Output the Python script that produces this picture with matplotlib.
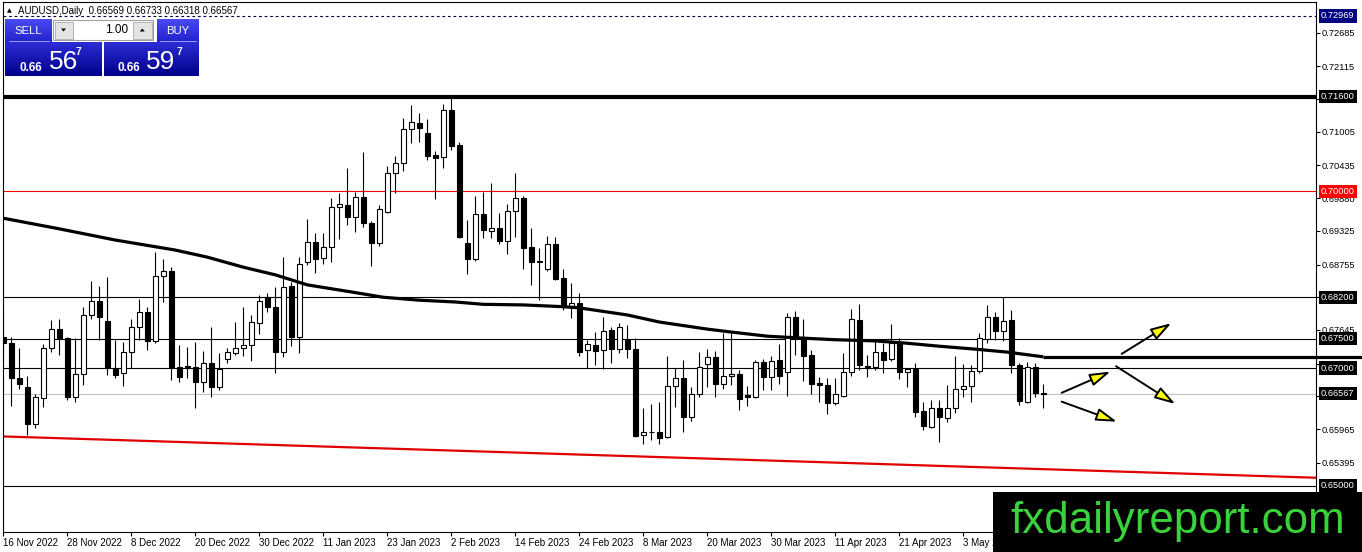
import matplotlib
matplotlib.use("Agg")
import matplotlib.pyplot as plt
import matplotlib.transforms as mtransforms
from matplotlib.patches import Rectangle, FancyArrowPatch, Polygon
from matplotlib.colors import LinearSegmentedColormap
from matplotlib import font_manager
import numpy as np

# ---------------- data ----------------
symbol = "AUDUSD,Daily"
last_ohlc = [0.66569, 0.66733, 0.66318, 0.66567]

opens = [0.6753, 0.6742, 0.6683, 0.6668, 0.6605, 0.6649, 0.6734, 0.6766, 0.6751, 0.6651,
         0.6690, 0.6790, 0.6814, 0.6780, 0.6700, 0.6692, 0.6727, 0.6770, 0.6795, 0.6746,
         0.6856, 0.6865, 0.6702, 0.6703, 0.6702, 0.6676, 0.6709, 0.6668, 0.6715, 0.6726,
         0.6734, 0.6739, 0.6776, 0.6820, 0.6804, 0.6727, 0.6839, 0.6753, 0.6880, 0.6914,
         0.6887, 0.6905, 0.6973, 0.6976, 0.6956, 0.6990, 0.6946, 0.6912, 0.6965, 0.7031,
         0.7048, 0.7105, 0.7115, 0.7099, 0.7061, 0.7058, 0.7138, 0.7078, 0.6912, 0.6885,
         0.6961, 0.6932, 0.6937, 0.6915, 0.6966, 0.6988, 0.6905, 0.6880, 0.6868, 0.6910,
         0.6853, 0.6805, 0.6810, 0.6731, 0.6739, 0.6731, 0.6764, 0.6732, 0.6748, 0.6732,
         0.6586, 0.6592, 0.6592, 0.6583, 0.6670, 0.6683, 0.6617, 0.6656, 0.6707, 0.6719,
         0.6673, 0.6687, 0.6690, 0.6654, 0.6651, 0.6710, 0.6685, 0.6714, 0.6693, 0.6787,
         0.6751, 0.6722, 0.6675, 0.6671, 0.6641, 0.6653, 0.6693, 0.6781, 0.6703, 0.6702,
         0.6727, 0.6715, 0.6744, 0.6693, 0.6698, 0.6627, 0.6600, 0.6632, 0.6615, 0.6632,
         0.6664, 0.6670, 0.6695, 0.6749, 0.6787, 0.6763, 0.6781, 0.6705, 0.6642, 0.6702,
         0.66569]
highs = [0.6795, 0.6753, 0.6734, 0.6687, 0.6656, 0.6741, 0.6781, 0.6783, 0.6752, 0.6751,
         0.6804, 0.6848, 0.6839, 0.6854, 0.6748, 0.6744, 0.6783, 0.6817, 0.6804, 0.6897,
         0.6885, 0.6871, 0.6739, 0.6736, 0.6744, 0.6729, 0.6770, 0.6726, 0.6734, 0.6778,
         0.6804, 0.6790, 0.6824, 0.6827, 0.6837, 0.6888, 0.6846, 0.6888, 0.6953, 0.6929,
         0.6929, 0.6988, 0.6997, 0.7039, 0.6999, 0.7066, 0.6949, 0.6976, 0.7043, 0.7060,
         0.7124, 0.7146, 0.7132, 0.7122, 0.7068, 0.7148, 0.7160, 0.7083, 0.6951, 0.6992,
         0.6999, 0.7014, 0.6963, 0.6978, 0.7031, 0.6992, 0.6937, 0.6904, 0.6924, 0.6922,
         0.6868, 0.6844, 0.6827, 0.6748, 0.6761, 0.6787, 0.6770, 0.6776, 0.6773, 0.6751,
         0.6632, 0.6639, 0.6642, 0.6720, 0.6700, 0.6714, 0.6668, 0.6727, 0.6732, 0.6729,
         0.6759, 0.6759, 0.6697, 0.6670, 0.6714, 0.6715, 0.6720, 0.6741, 0.6793, 0.6797,
         0.6783, 0.6731, 0.6685, 0.6683, 0.6683, 0.6726, 0.6800, 0.6809, 0.6722, 0.6749,
         0.6742, 0.6775, 0.6751, 0.6699, 0.6709, 0.6642, 0.6646, 0.6646, 0.6671, 0.6720,
         0.6707, 0.6705, 0.6759, 0.6807, 0.6795, 0.6820, 0.6798, 0.6709, 0.6710, 0.6709,
         0.66733]
lows = [0.6722, 0.6636, 0.6664, 0.6586, 0.6598, 0.6634, 0.6727, 0.6722, 0.6646, 0.6642,
        0.6671, 0.6783, 0.6748, 0.6688, 0.6683, 0.6670, 0.6700, 0.6748, 0.6731, 0.6742,
        0.6812, 0.6680, 0.6676, 0.6683, 0.6632, 0.6659, 0.6651, 0.6663, 0.6709, 0.6722,
        0.6720, 0.6712, 0.6758, 0.6795, 0.6692, 0.6719, 0.6737, 0.6726, 0.6875, 0.6861,
        0.6876, 0.6880, 0.6919, 0.6943, 0.6931, 0.6939, 0.6873, 0.6907, 0.6963, 0.6997,
        0.7034, 0.7082, 0.7083, 0.7053, 0.6987, 0.7039, 0.7070, 0.6920, 0.6859, 0.6882,
        0.6920, 0.6920, 0.6910, 0.6893, 0.6922, 0.6868, 0.6841, 0.6815, 0.6865, 0.6849,
        0.6798, 0.6785, 0.6720, 0.6700, 0.6705, 0.6698, 0.6709, 0.6726, 0.6717, 0.6583,
        0.6571, 0.6578, 0.6571, 0.6582, 0.6634, 0.6592, 0.6610, 0.6651, 0.6668, 0.6651,
        0.6664, 0.6671, 0.6629, 0.6636, 0.6649, 0.6663, 0.6663, 0.6673, 0.6653, 0.6722,
        0.6678, 0.6656, 0.6642, 0.6622, 0.6637, 0.6651, 0.6687, 0.6697, 0.6685, 0.6697,
        0.6692, 0.6712, 0.6681, 0.6668, 0.6617, 0.6595, 0.6598, 0.6575, 0.6609, 0.6624,
        0.6651, 0.6642, 0.6692, 0.6742, 0.6748, 0.6746, 0.6692, 0.6637, 0.6641, 0.6651,
        0.66318]
closes = [0.6742, 0.6683, 0.6673, 0.6605, 0.6651, 0.6734, 0.6766, 0.6751, 0.6651, 0.6690,
          0.6790, 0.6814, 0.6787, 0.6700, 0.6688, 0.6727, 0.6770, 0.6795, 0.6746, 0.6856,
          0.6865, 0.6702, 0.6685, 0.6700, 0.6676, 0.6709, 0.6668, 0.6698, 0.6727, 0.6734,
          0.6739, 0.6778, 0.6814, 0.6804, 0.6727, 0.6837, 0.6753, 0.6876, 0.6914, 0.6885,
          0.6905, 0.6973, 0.6978, 0.6956, 0.6990, 0.6946, 0.6912, 0.6970, 0.7031, 0.7048,
          0.7105, 0.7117, 0.7107, 0.7060, 0.7056, 0.7138, 0.7076, 0.6922, 0.6885, 0.6961,
          0.6934, 0.6937, 0.6915, 0.6966, 0.6988, 0.6904, 0.6880, 0.6882, 0.6910, 0.6851,
          0.6804, 0.6810, 0.6727, 0.6741, 0.6729, 0.6763, 0.6732, 0.6770, 0.6732, 0.6585,
          0.6592, 0.6591, 0.6581, 0.6670, 0.6683, 0.6617, 0.6656, 0.6702, 0.6719, 0.6673,
          0.6687, 0.6690, 0.6648, 0.6651, 0.6710, 0.6685, 0.6712, 0.6687, 0.6787, 0.6751,
          0.6720, 0.6673, 0.6671, 0.6641, 0.6656, 0.6693, 0.6783, 0.6705, 0.6700, 0.6727,
          0.6714, 0.6742, 0.6693, 0.6698, 0.6625, 0.6602, 0.6632, 0.6617, 0.6632, 0.6664,
          0.6670, 0.6695, 0.6751, 0.6787, 0.6763, 0.6780, 0.6705, 0.6644, 0.6702, 0.6658,
          0.66567]

date_labels = ["16 Nov 2022", "28 Nov 2022", "8 Dec 2022", "20 Dec 2022", "30 Dec 2022",
               "11 Jan 2023", "23 Jan 2023", "2 Feb 2023", "14 Feb 2023", "24 Feb 2023",
               "8 Mar 2023", "20 Mar 2023", "30 Mar 2023", "11 Apr 2023", "21 Apr 2023",
               "3 May 2023"]
bars_per_label = 8

# 200-day moving average, read at points along the curve
ma_idx = [0, 7, 14, 21.5, 25.5, 30, 34, 38, 43.5, 47.5, 52, 56.5, 60, 65, 70, 72, 78, 82,
          88, 91, 95.5, 99.5, 104, 109, 113, 117, 121.5, 125.5, 130]
ma_val = [0.6954, 0.6936, 0.6917, 0.6900, 0.6888, 0.6871, 0.6858, 0.6841, 0.6829, 0.6820,
          0.6815, 0.6812, 0.6808, 0.6807, 0.6804, 0.6802, 0.6790, 0.6778, 0.6766, 0.6761,
          0.6754, 0.6751, 0.6748, 0.6746, 0.6742, 0.6737, 0.6732, 0.6727, 0.6719]
ma_ext_level = 0.6719

price_ticks = [0.72685, 0.72115, 0.71560, 0.71005, 0.70435, 0.69880, 0.69325, 0.68755,
               0.68200, 0.67645, 0.67075, 0.66520, 0.65965, 0.65395]
hidden_tick_labels = [0.71560, 0.68200, 0.66520]   # covered by level boxes
level_thick = 0.71600
level_red = 0.70000
levels_black = [0.68200, 0.67500, 0.67000, 0.65000]
bid_level = 0.66567
ask_level = 0.72969
trend_idx = [0, 164.1]
trend_val = [0.6584, 0.6514]

arrow_from = [(132.3, 0.6658), (132.3, 0.6643), (139.8, 0.6724), (139.1, 0.6703)]
arrow_to = [(138.4, 0.6694), (139.2, 0.6609), (146.0, 0.6776), (146.5, 0.6639)]

sell_parts = ("0.66", "56", "7")
buy_parts = ("0.66", "59", "7")
lot_text = "1.00"
watermark = "fxdailyreport.com"

# ---------------- fonts ----------------
avail = {f.name for f in font_manager.fontManager.ttflist}
BASE = "Liberation Sans" if "Liberation Sans" in avail else "DejaVu Sans"
if "Liberation Sans Narrow" in avail:
    NARROW, nscale = "Liberation Sans Narrow", 1.0
else:
    NARROW, nscale = BASE, 0.82
plt.rcParams["font.family"] = [BASE, "DejaVu Sans"]

# ---------------- figure ----------------
W, H = 1362, 552
fig = plt.figure(figsize=(W / 100, H / 100), dpi=100)
fig.patch.set_facecolor("white")
L, R, T, B = 3, 1316, 2, 531.7
ax = fig.add_axes([L / W, 1 - B / H, (R - L) / W, (B - T) / H])
ax.set_facecolor("white")
ax.set_xlim(-0.0375, 164.09)
ax.set_ylim(0.64225, 0.73206)

n = len(opens)
x = np.arange(n)
o = np.array(opens); c = np.array(closes); hi = np.array(highs); lo = np.array(lows)
up = c > o

# levels
ax.axhline(bid_level, color="#c0c0c0", lw=0.8, zorder=1)
ax.axhline(ask_level, color="#000040", lw=0.8, ls=(0, (2.5, 2.5)), zorder=1)
ax.axhline(level_red, color="#ff0000", lw=0.8, zorder=1)
for lv in levels_black:
    ax.axhline(lv, color="black", lw=0.8, zorder=1)
ax.axhline(level_thick, color="black", lw=3.0, zorder=1)
ax.plot(trend_idx, trend_val, color="#e00000", lw=1.6, zorder=1)

# candles
ax.vlines(x, lo, hi, color="black", lw=0.8, zorder=3)
ax.bar(x, np.abs(c - o), bottom=np.minimum(o, c), width=0.6,
       color=["white" if u else "black" for u in up], edgecolor="black",
       linewidth=0.8, zorder=4)

# moving average + extension
ax.plot(ma_idx, ma_val, color="black", lw=2.3, zorder=6, solid_capstyle="butt")
ax.plot([ma_idx[-1], (W - 3.3) / 8], [ma_ext_level] * 2, color="black", lw=2.3,
        zorder=12, clip_on=False, solid_capstyle="butt")

# arrows
for a, b in zip(arrow_from, arrow_to):
    ax.add_patch(FancyArrowPatch(a, b, arrowstyle="-|>,head_length=12.5,head_width=3.8",
                                 mutation_scale=1, fc="#ffff00", ec="black", lw=1.4,
                                 shrinkA=0, shrinkB=0, zorder=8))

# axes styling
for s in ax.spines.values():
    s.set_color("black"); s.set_linewidth(0.8)
ax.yaxis.tick_right()
ax.set_yticks(price_ticks)
ax.set_yticklabels(["" if v in hidden_tick_labels else f"{v:.5f}" for v in price_ticks])
ax.set_xticks(np.arange(len(date_labels)) * bars_per_label)
ax.set_xticklabels(date_labels, ha="left")
ax.tick_params(axis="y", direction="out", length=3, width=0.8, pad=1.2, labelsize=6.7)
ax.tick_params(axis="x", direction="out", length=3, width=0.8, pad=1.5, labelsize=7)

# price boxes on the right axis
btrans = mtransforms.blended_transform_factory(ax.transAxes, ax.transData)
box_levels = [(ask_level, "#000080"), (level_thick, "black"), (level_red, "#ff0000"),
              (0.68200, "black"), (0.67500, "black"), (0.67000, "black"),
              (bid_level, "black"), (0.65000, "black")]
for v, col in box_levels:
    ax.text(1 + 5 / 1313, v, f"{v:.5f}", transform=btrans, ha="left", va="center",
            fontsize=6.7, color="white", clip_on=False, zorder=11,
            bbox=dict(boxstyle="square,pad=0.22", fc=col, ec="none"))

# ---------------- overlay (pixel coordinates) ----------------
ov = fig.add_axes([0, 0, 1, 1], zorder=20)
ov.axis("off")


def grad(x0, y0, x1, y1, ctop, cbot):
    cm = LinearSegmentedColormap.from_list("g", [ctop, cbot])
    ov.imshow(np.linspace(0, 1, 64).reshape(-1, 1), extent=(x0, x1, y1, y0),
              origin="upper", cmap=cm, aspect="auto", interpolation="bilinear", zorder=1)


# header text
ov.text(6.5, 10.5, "▲", fontsize=4.5, va="center", ha="left", color="black",
        family=["DejaVu Sans"])
ov.text(18, 10.5, f"{symbol}  " + " ".join(f"{v:.5f}" for v in last_ohlc),
        fontsize=7, va="center", ha="left", color="black")

# SELL / BUY panel
grad(5, 20, 52, 42.5, "#4a4af2", "#2222cc")
grad(157, 20, 199, 42.5, "#4a4af2", "#2222cc")
grad(5, 42.5, 102, 76, "#2c2cd6", "#00008a")
grad(104, 42.5, 199, 76, "#2c2cd6", "#00008a")
ov.plot([9, 49], [40.5, 40.5], color="#9a9aff", lw=0.7, zorder=2)
ov.plot([160, 196], [40.5, 40.5], color="#9a9aff", lw=0.7, zorder=2)
ov.add_patch(Rectangle((53, 20), 100, 20, fc="white", ec="#a0a0a0", lw=0.8, zorder=2))
ov.add_patch(Rectangle((54.5, 21.5), 18, 17, fc="#e4e4e4", ec="#b4b4b4", lw=0.7, zorder=3))
ov.add_patch(Rectangle((133, 21.5), 18.5, 17, fc="#e4e4e4", ec="#b4b4b4", lw=0.7, zorder=3))
ov.add_patch(Polygon([(61, 28.5), (66, 28.5), (63.5, 31.5)], closed=True, fc="black",
                     ec="none", zorder=4))
ov.add_patch(Polygon([(139.8, 31.5), (144.8, 31.5), (142.3, 28.5)], closed=True,
                     fc="black", ec="none", zorder=4))
ov.text(128, 30, lot_text, fontsize=8.5, ha="right", va="center", color="black", zorder=5)
ov.text(28.5, 31, "SELL", fontsize=10 * nscale, family=[NARROW], ha="center",
        va="center", color="white", zorder=5)
ov.text(178, 31, "BUY", fontsize=10 * nscale, family=[NARROW], ha="center",
        va="center", color="white", zorder=5)
for (p0, big, sup), xs in ((sell_parts, (20, 48.5, 76)), (buy_parts, (118, 145.5, 176.5))):
    ov.text(xs[0], 71, p0, fontsize=8.5, fontweight="bold", ha="left", va="baseline",
            color="white", zorder=5)
    ov.text(xs[1], 69, big, fontsize=23 * nscale, family=[NARROW], ha="left",
            va="baseline", color="white", zorder=5)
    ov.text(xs[2], 55, sup, fontsize=9 * nscale, family=[NARROW], fontweight="bold",
            ha="left", va="baseline", color="white", zorder=5)

# watermark
ov.add_patch(Rectangle((993, 492), W - 993, H - 492, fc="black", ec="none", zorder=6))
ov.text(1177.5, 533.5, watermark, fontsize=38.5 * nscale, family=[NARROW], ha="center",
        va="baseline", color="#3ad23a", zorder=7)

ov.set_xlim(0, W)
ov.set_ylim(H, 0)

fig.savefig("out.png", dpi=100, facecolor="white")
